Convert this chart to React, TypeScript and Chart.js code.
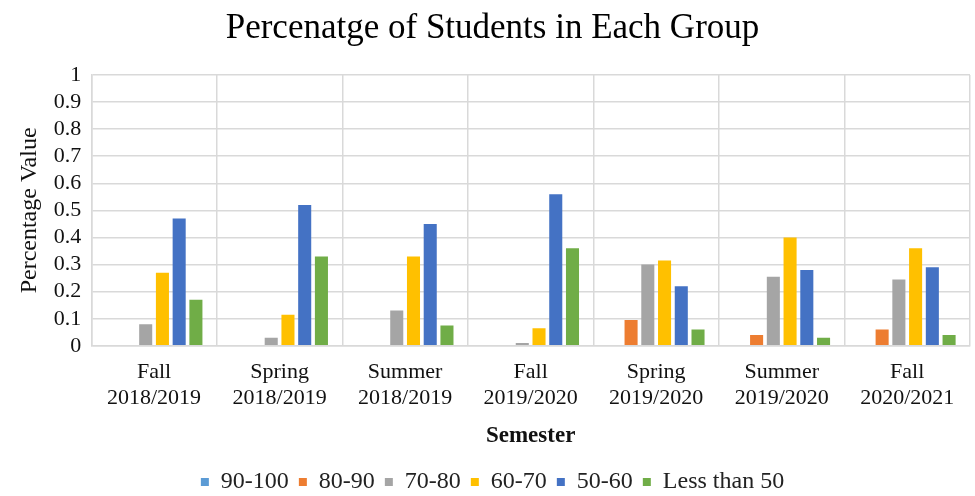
import React, { useEffect, useRef } from "react";
import { Chart, registerables } from "chart.js";

Chart.register(...registerables);

const categories: string[][] = [
  ["Fall", "2018/2019"],
  ["Spring", "2018/2019"],
  ["Summer", "2018/2019"],
  ["Fall", "2019/2020"],
  ["Spring", "2019/2020"],
  ["Summer", "2019/2020"],
  ["Fall", "2020/2021"],
];

const g90_100 = [0, 0, 0, 0, 0, 0, 0];
const g80_90 = [0, 0, 0, 0, 0.095, 0.04, 0.06];
const g70_80 = [0.08, 0.03, 0.13, 0.01, 0.3, 0.255, 0.245];
const g60_70 = [0.27, 0.115, 0.33, 0.065, 0.315, 0.4, 0.36];
const g50_60 = [0.47, 0.52, 0.45, 0.56, 0.22, 0.28, 0.29];
const gLess50 = [0.17, 0.33, 0.075, 0.36, 0.06, 0.03, 0.04];

const seriesNames = ["90-100", "80-90", "70-80", "60-70", "50-60", "Less than 50"];
const seriesColors = ["#5B9BD5", "#ED7D31", "#A5A5A5", "#FFC000", "#4472C4", "#70AD47"];

export default function App() {
  const ref = useRef<HTMLCanvasElement | null>(null);
  useEffect(() => {
    if (!ref.current) return;
    const serif = "'Liberation Serif', 'Times New Roman', serif";
    const values = [g90_100, g80_90, g70_80, g60_70, g50_60, gLess50];
    const chart = new Chart(ref.current, {
      type: "bar",
      data: {
        labels: categories,
        datasets: values.map((v, i) => ({
          label: seriesNames[i],
          data: v,
          backgroundColor: seriesColors[i],
          borderWidth: 0,
          categoryPercentage: 0.8,
          barPercentage: 0.78,
        })),
      },
      options: {
        animation: false,
        responsive: false,
        maintainAspectRatio: false,
        layout: { padding: { left: 15, right: 5, top: 8, bottom: -8 } },
        plugins: {
          title: {
            display: true,
            text: "Percenatge of Students in Each Group",
            color: "#000",
            font: { family: serif, size: 35, weight: "normal", lineHeight: 1.2 },
            padding: { top: 0, bottom: 25 },
          },
          legend: {
            position: "bottom",
            labels: {
              color: "#222",
              font: { family: serif, size: 24 },
              boxWidth: 8,
              boxHeight: 8,
              padding: 10,
            },
          },
          tooltip: { enabled: false },
        },
        scales: {
          x: {
            grid: { color: "#D9D9D9", lineWidth: 1.5, offset: true, drawTicks: false },
            border: { color: "#D9D9D9", width: 1.5 },
            ticks: {
              color: "#111",
              font: { family: serif, size: 22, lineHeight: 1.15 },
              padding: 14,
              maxRotation: 0,
              autoSkip: false,
            },
            title: {
              display: true,
              text: "Semester",
              color: "#111",
              font: { family: serif, size: 23, weight: "bold" },
              padding: { top: -2, bottom: 10 },
            },
          },
          y: {
            min: 0,
            max: 1,
            grid: { color: "#D9D9D9", lineWidth: 1.5, drawTicks: false },
            border: { color: "#D9D9D9", width: 1.5 },
            ticks: {
              stepSize: 0.1,
              autoSkip: false,
              color: "#111",
              font: { family: serif, size: 22 },
              padding: 10,
              callback: (v: any) => String(Math.round(Number(v) * 10) / 10),
            },
            title: {
              display: true,
              text: "Percentage Value",
              color: "#111",
              font: { family: serif, size: 24, weight: "normal" },
              padding: { top: 0, bottom: 0 },
            },
          },
        },
      },
    });
    return () => chart.destroy();
  }, []);
  return (
    <div style={{ position: "fixed", left: 0, top: 0, width: 975, height: 496, background: "#fff" }}>
      <canvas ref={ref} width={975} height={496} style={{ width: 975, height: 496 }} />
    </div>
  );
}
